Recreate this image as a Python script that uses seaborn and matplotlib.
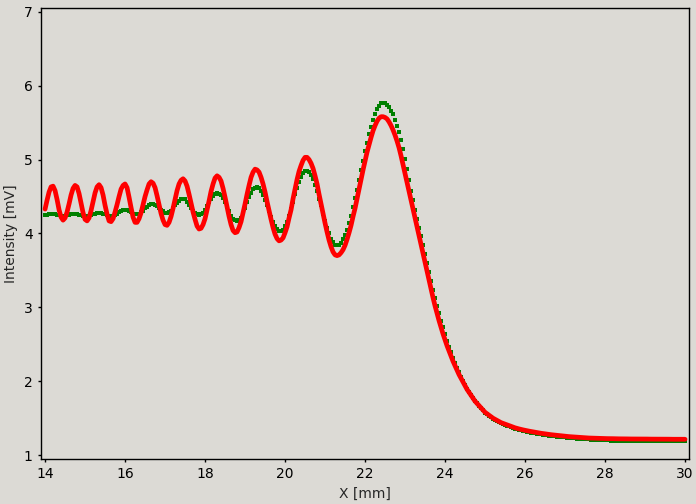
import matplotlib.pyplot as plt
import numpy as np
import pandas as pd
import seaborn as sns

# x positions in mm (0.05 mm step), one row of values per mm below
x_mm = np.round(np.arange(14.0, 30.0001, 0.05), 2)

# measured intensity (green squares)
measured_mv = [
    4.25, 4.25, 4.26, 4.26, 4.26, 4.26, 4.25, 4.25, 4.24, 4.24, 4.24, 4.25, 4.25, 4.26, 4.26, 4.26, 4.26, 4.25, 4.25, 4.24,
    4.24, 4.24, 4.24, 4.25, 4.26, 4.27, 4.28, 4.28, 4.28, 4.27, 4.26, 4.25, 4.24, 4.24, 4.24, 4.25, 4.27, 4.29, 4.31, 4.32,
    4.32, 4.32, 4.31, 4.29, 4.27, 4.26, 4.26, 4.27, 4.29, 4.31, 4.34, 4.36, 4.38, 4.40, 4.40, 4.39, 4.37, 4.34, 4.32, 4.30,
    4.28, 4.28, 4.29, 4.31, 4.34, 4.38, 4.41, 4.44, 4.46, 4.47, 4.46, 4.43, 4.39, 4.35, 4.31, 4.28, 4.26, 4.25, 4.26, 4.28,
    4.32, 4.37, 4.42, 4.47, 4.51, 4.54, 4.55, 4.54, 4.52, 4.48, 4.42, 4.36, 4.30, 4.24, 4.20, 4.18, 4.17, 4.18, 4.21, 4.28,
    4.35, 4.42, 4.49, 4.55, 4.60, 4.62, 4.63, 4.61, 4.57, 4.52, 4.45, 4.38, 4.30, 4.22, 4.16, 4.10, 4.06, 4.03, 4.03, 4.05,
    4.10, 4.16, 4.24, 4.33, 4.43, 4.53, 4.62, 4.69, 4.77, 4.82, 4.85, 4.85, 4.83, 4.79, 4.74, 4.66, 4.58, 4.47, 4.38, 4.27,
    4.17, 4.08, 4.00, 3.93, 3.88, 3.85, 3.84, 3.85, 3.87, 3.92, 3.98, 4.05, 4.14, 4.24, 4.36, 4.48, 4.59, 4.73, 4.86, 4.98,
    5.11, 5.23, 5.35, 5.44, 5.54, 5.62, 5.68, 5.73, 5.76, 5.77, 5.76, 5.74, 5.71, 5.66, 5.61, 5.54, 5.46, 5.37, 5.26, 5.14,
    5.01, 4.87, 4.72, 4.58, 4.45, 4.32, 4.20, 4.08, 3.96, 3.84, 3.72, 3.60, 3.48, 3.36, 3.24, 3.13, 3.02, 2.92, 2.82, 2.73,
    2.64, 2.55, 2.47, 2.39, 2.32, 2.25, 2.18, 2.12, 2.06, 2.01, 1.95, 1.90, 1.86, 1.81, 1.77, 1.73, 1.70, 1.665, 1.635, 1.605,
    1.575, 1.553, 1.533, 1.513, 1.493, 1.477, 1.46, 1.445, 1.43, 1.42, 1.41, 1.40, 1.39, 1.38, 1.37, 1.36, 1.352, 1.345, 1.338, 1.331,
    1.324, 1.318, 1.312, 1.306, 1.301, 1.296, 1.291, 1.286, 1.281, 1.277, 1.273, 1.269, 1.265, 1.261, 1.258, 1.255, 1.252, 1.249, 1.246, 1.243,
    1.240, 1.237, 1.234, 1.231, 1.229, 1.226, 1.224, 1.222, 1.220, 1.218, 1.216, 1.214, 1.212, 1.210, 1.209, 1.207, 1.206, 1.204, 1.203, 1.202,
    1.201, 1.200, 1.199, 1.198, 1.197, 1.196, 1.196, 1.195, 1.195, 1.194, 1.194, 1.193, 1.193, 1.192, 1.192, 1.192, 1.191, 1.191, 1.191, 1.190,
    1.190, 1.190, 1.190, 1.189, 1.189, 1.189, 1.189, 1.189, 1.188, 1.188, 1.188, 1.188, 1.188, 1.188, 1.187, 1.187, 1.187, 1.187, 1.187, 1.187,
    1.187,
]

# fitted intensity (red line)
fit_mv = [
    4.33, 4.45, 4.56, 4.63, 4.64, 4.58, 4.46, 4.32, 4.22, 4.18, 4.21, 4.29, 4.40, 4.52, 4.61, 4.65, 4.63, 4.54, 4.41, 4.28,
    4.19, 4.17, 4.21, 4.31, 4.43, 4.55, 4.63, 4.66, 4.62, 4.52, 4.38, 4.26, 4.17, 4.16, 4.20, 4.29, 4.39, 4.50, 4.60, 4.65,
    4.67, 4.62, 4.49, 4.35, 4.22, 4.15, 4.15, 4.20, 4.28, 4.39, 4.50, 4.59, 4.67, 4.70, 4.68, 4.62, 4.51, 4.39, 4.27, 4.18,
    4.12, 4.11, 4.15, 4.23, 4.34, 4.46, 4.58, 4.67, 4.72, 4.74, 4.71, 4.64, 4.53, 4.41, 4.29, 4.19, 4.10, 4.06, 4.07, 4.12,
    4.20, 4.32, 4.44, 4.57, 4.67, 4.75, 4.78, 4.76, 4.71, 4.61, 4.49, 4.36, 4.23, 4.12, 4.04, 4.01, 4.02, 4.08, 4.16, 4.28,
    4.40, 4.53, 4.65, 4.76, 4.83, 4.87, 4.86, 4.83, 4.76, 4.67, 4.56, 4.43, 4.31, 4.19, 4.08, 3.99, 3.93, 3.90, 3.91, 3.94,
    4.01, 4.09, 4.21, 4.32, 4.47, 4.60, 4.73, 4.84, 4.92, 4.99, 5.03, 5.03, 5.00, 4.95, 4.88, 4.78, 4.67, 4.53, 4.40, 4.27,
    4.14, 4.02, 3.91, 3.82, 3.75, 3.71, 3.70, 3.71, 3.74, 3.78, 3.84, 3.92, 4.01, 4.11, 4.23, 4.34, 4.47, 4.60, 4.73, 4.86,
    4.98, 5.10, 5.20, 5.30, 5.39, 5.46, 5.52, 5.56, 5.58, 5.58, 5.57, 5.55, 5.51, 5.46, 5.40, 5.33, 5.25, 5.16, 5.05, 4.93,
    4.81, 4.69, 4.57, 4.45, 4.33, 4.21, 4.09, 3.97, 3.85, 3.73, 3.61, 3.49, 3.37, 3.25, 3.13, 3.02, 2.92, 2.82, 2.73, 2.64,
    2.56, 2.48, 2.41, 2.34, 2.27, 2.21, 2.15, 2.09, 2.04, 1.99, 1.94, 1.89, 1.85, 1.81, 1.77, 1.73, 1.70, 1.67, 1.64, 1.61,
    1.58, 1.56, 1.54, 1.52, 1.50, 1.485, 1.47, 1.455, 1.44, 1.43, 1.42, 1.41, 1.40, 1.39, 1.38, 1.37, 1.362, 1.355, 1.348, 1.342,
    1.336, 1.33, 1.325, 1.32, 1.315, 1.31, 1.305, 1.30, 1.296, 1.292, 1.288, 1.284, 1.28, 1.277, 1.274, 1.271, 1.268, 1.265, 1.262, 1.259,
    1.256, 1.254, 1.251, 1.249, 1.247, 1.245, 1.243, 1.241, 1.239, 1.237, 1.235, 1.233, 1.232, 1.231, 1.23, 1.229, 1.228, 1.227, 1.226, 1.225,
    1.225, 1.224, 1.224, 1.223, 1.223, 1.222, 1.222, 1.221, 1.221, 1.220, 1.220, 1.220, 1.219, 1.219, 1.219, 1.218, 1.218, 1.218, 1.218, 1.218,
    1.218, 1.218, 1.217, 1.217, 1.217, 1.217, 1.217, 1.216, 1.216, 1.216, 1.216, 1.216, 1.216, 1.215, 1.215, 1.215, 1.215, 1.215, 1.215, 1.215,
    1.215,
]

x_ticks = [14, 16, 18, 20, 22, 24, 26, 28, 30]
y_ticks = [1, 2, 3, 4, 5, 6, 7]

df = pd.DataFrame({"x": x_mm, "measured": measured_mv, "fit": fit_mv})

bg = "#dcdad5"
sns.set_style("ticks")
plt.rcParams["font.family"] = ["DejaVu Sans"]

fig, ax = plt.subplots(figsize=(6.96, 5.04), dpi=100)
fig.patch.set_facecolor(bg)
ax.set_facecolor(bg)
fig.subplots_adjust(left=0.059, right=0.99, bottom=0.089, top=0.984)

sns.scatterplot(data=df, x="x", y="measured", marker="s", s=6, color="green",
                linewidth=0, ax=ax, zorder=2)
sns.lineplot(data=df, x="x", y="fit", color="red", linewidth=3.4, ax=ax,
             zorder=3, solid_capstyle="round")

ax.set_xlim(13.9, 30.1)
ax.set_ylim(0.946, 7.05)
ax.set_xticks(x_ticks)
ax.set_yticks(y_ticks)
ax.set_xlabel("X [mm]", fontsize=10)
ax.set_ylabel("Intensity [mV]", fontsize=10)
ax.tick_params(direction="out", length=2.5, width=1, labelsize=10, colors="black")
for side in ["top", "right", "left", "bottom"]:
    ax.spines[side].set_visible(True)
    ax.spines[side].set_color("black")
    ax.spines[side].set_linewidth(1)

fig.savefig("out.png", dpi=100, facecolor=bg)
